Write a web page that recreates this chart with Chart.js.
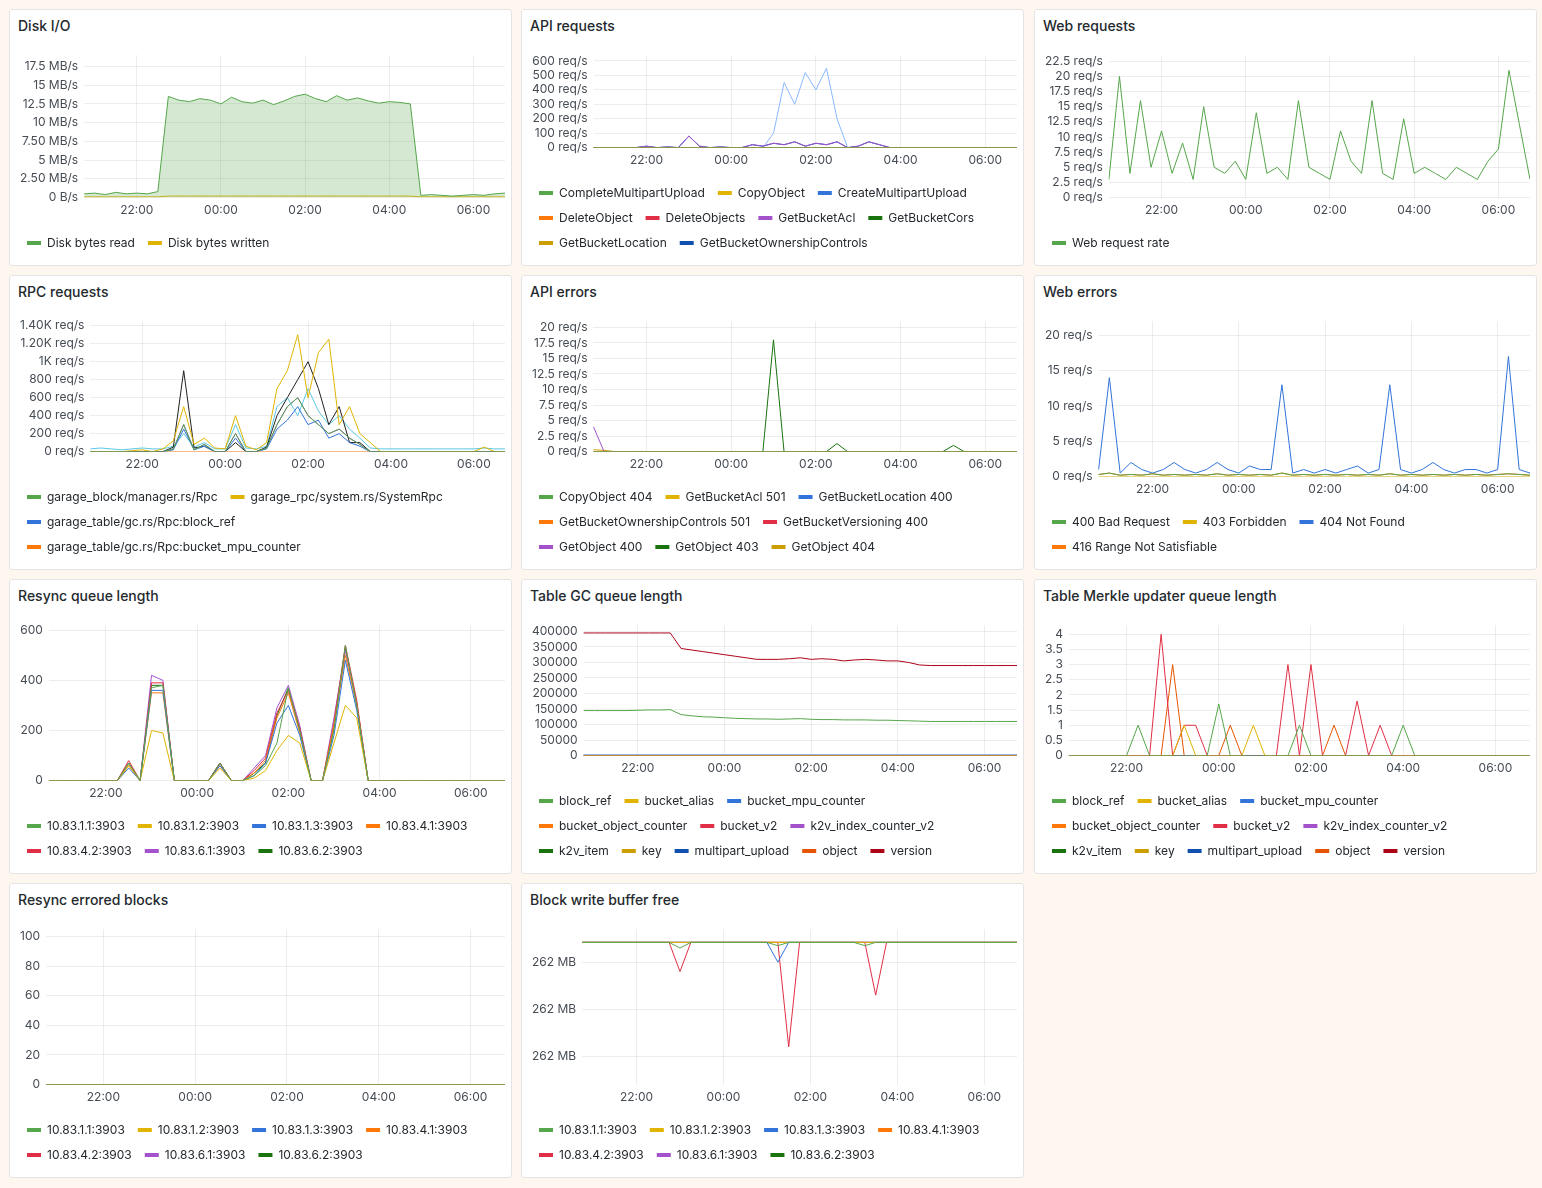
<!DOCTYPE html>
<html>
<head>
<meta charset="utf-8">
<script src="https://cdn.jsdelivr.net/npm/chart.js@4.4.1/dist/chart.umd.min.js"></script>
<style>
  body { margin: 0; background: #fef7ef; font-family: Inter, "Noto Sans", sans-serif; }
  .panel { position: absolute; background: #fff; border: 1px solid #e4e4e7; border-radius: 3px; box-sizing: border-box; }
  .title { position: absolute; left: 8px; top: 7px; font-size: 14px; font-weight: 500; color: #24292e; }
  .box { position: absolute; left: 4px; right: 6px; top: 32px; bottom: 6px; }
</style>
</head>
<body>
<div id="root"></div>
<script>
// ─── Data ───
const times = ["20:45","21:00","21:15","21:30","21:45","22:00","22:15","22:30","22:45","23:00","23:15","23:30","23:45",
  "00:00","00:15","00:30","00:45","01:00","01:15","01:30","01:45","02:00","02:15","02:30","02:45","03:00","03:15","03:30","03:45",
  "04:00","04:15","04:30","04:45","05:00","05:15","05:30","05:45","06:00","06:15","06:30","06:45"];
const Z = [0,0,0,0,0,0,0,0,0,0,0,0,0,0,0,0,0,0,0,0,0,0,0,0,0,0,0,0,0,0,0,0,0,0,0,0,0,0,0,0,0];

const diskRead    = [0.5,0.6,0.4,0.7,0.5,0.6,0.5,0.8,13.5,13,12.8,13.2,13,12.5,13.4,12.8,12.6,13,12.4,12.9,13.5,13.8,13.2,12.8,13.6,13,13.3,12.9,12.6,12.8,12.7,12.5,0.3,0.4,0.3,0.2,0.3,0.4,0.3,0.5,0.6];
const diskWritten = [0.1,0.1,0.1,0.1,0.1,0.1,0.1,0.1,0.2,0.2,0.2,0.2,0.2,0.2,0.2,0.2,0.2,0.2,0.2,0.2,0.2,0.2,0.2,0.2,0.2,0.2,0.2,0.2,0.2,0.2,0.2,0.2,0.1,0.1,0.1,0.1,0.1,0.1,0.1,0.1,0.1];

const apiPurple = [0,0,0,0,0,10,0,5,0,80,10,0,5,0,0,20,10,30,20,40,10,30,20,40,0,10,40,20,0,0,0,0,0,0,0,0,0,0,0,0,0];
const apiLight  = [0,0,0,0,0,0,0,0,0,0,0,0,0,0,0,0,0,100,450,300,520,400,550,200,0,0,0,0,0,0,0,0,0,0,0,0,0,0,0,0,0];

const webReq = [3,20,4,16,5,11,4,9,3,15,5,4,6,3,14,4,5,3,16,5,4,3,11,6,4,16,4,3,13,4,5,4,3,5,4,3,6,8,21,12,3];

const rpcYellow = [0,0,0,0,10,20,0,30,120,500,80,150,40,30,400,60,20,100,700,900,1300,600,1100,1250,300,500,200,100,0,0,0,0,0,0,0,0,0,0,50,0,0];
const rpcBlack  = [0,0,0,0,0,0,0,0,50,900,40,60,0,0,100,0,0,50,400,600,800,1000,700,300,500,100,100,0,0,0,0,0,0,0,0,0,0,0,0,0,0];
const rpcCyan   = [30,40,30,20,30,40,30,30,60,200,50,100,30,30,300,40,30,60,500,600,400,700,450,300,400,250,150,40,30,30,30,30,30,30,30,30,30,30,40,30,30];
const rpcPurple = [0,0,0,0,0,0,0,0,30,300,20,80,0,0,200,0,0,40,300,500,600,400,300,200,250,150,80,0,0,0,0,0,0,0,0,0,0,0,0,0,0];
const rpcBlue   = [0,0,0,0,0,0,0,0,20,250,20,60,0,0,150,0,0,30,250,350,500,300,350,150,200,100,60,0,0,0,0,0,0,0,0,0,0,0,0,0,0];

const errPurple = [4,0,0,0,0,0,0,0,0,0,0,0,0,0,0,0,0,0,0,0,0,0,0,0,0,0,0,0,0,0,0,0,0,0,0,0,0,0,0,0,0];
const errGreen  = [0,0,0,0,0,0,0,0,0,0,0,0,0,0,0,0,0,18,0,0,0,0,0,1.3,0,0,0,0,0,0,0,0,0,0,1,0,0,0,0,0,0];
const errYellow = [0.3,0.2,0,0,0,0,0,0,0,0,0,0,0,0,0,0,0,0,0,0,0,0,0,0,0,0,0,0,0,0,0,0,0,0,0,0,0,0,0,0,0];

const webErr404 = [1,14,0.5,2,1,0.5,1,2,1,0.5,1,2,1,0.5,1.5,1,1,13,0.5,1,0.5,1,0.5,1,1.5,0.5,1,13,1,0.5,1,2,1,0.5,1,1,0.5,1,17,1,0.5];
const webErr400 = [0.3,0.5,0.2,0.3,0.2,0.4,0.2,0.3,0.2,0.3,0.2,0.4,0.2,0.3,0.2,0.3,0.2,0.5,0.2,0.3,0.2,0.3,0.2,0.3,0.2,0.3,0.2,0.4,0.2,0.3,0.2,0.3,0.2,0.3,0.2,0.3,0.2,0.3,0.4,0.3,0.2];

const rsGreen  = [0,0,0,0,0,0,0,70,0,370,380,0,0,0,0,70,0,0,20,60,150,370,200,0,0,200,540,300,0,0,0,0,0,0,0,0,0,0,0,0,0];
const rsYellow = [0,0,0,0,0,0,0,60,0,200,190,0,0,0,0,50,0,0,10,40,120,180,150,0,0,150,300,250,0,0,0,0,0,0,0,0,0,0,0,0,0];
const rsBlue   = [0,0,0,0,0,0,0,50,0,360,360,0,0,0,0,60,0,0,20,70,230,300,180,0,0,180,480,280,0,0,0,0,0,0,0,0,0,0,0,0,0];
const rsOrange = [0,0,0,0,0,0,0,60,0,350,350,0,0,0,0,60,0,0,30,80,250,350,190,0,0,220,500,300,0,0,0,0,0,0,0,0,0,0,0,0,0];
const rsRed    = [0,0,0,0,0,0,0,80,0,390,390,0,0,0,0,70,0,0,40,90,270,360,210,0,0,230,540,320,0,0,0,0,0,0,0,0,0,0,0,0,0];
const rsPurple = [0,0,0,0,0,0,0,70,0,420,400,0,0,0,0,70,0,0,50,100,290,380,220,0,0,250,520,310,0,0,0,0,0,0,0,0,0,0,0,0,0];
const rsDGreen = [0,0,0,0,0,0,0,70,0,380,380,0,0,0,0,70,0,0,30,70,260,370,200,0,0,210,530,300,0,0,0,0,0,0,0,0,0,0,0,0,0];

const gcVersion = [395000,395000,395000,395000,395000,395000,395000,395000,395000,345000,340000,335000,330000,325000,320000,315000,310000,310000,310000,312000,315000,310000,312000,310000,305000,308000,310000,308000,305000,305000,300000,292000,290000,290000,290000,290000,290000,290000,290000,290000,290000];
const gcBlockRef = [145000,145000,145000,145000,145000,146000,147000,147000,148000,132000,128000,125000,124000,122000,120000,119000,118000,118000,117000,118000,119000,117000,116000,116000,115000,115000,115000,114000,114000,113000,112000,111000,110000,110000,110000,110000,110000,110000,110000,110000,110000];
const gcMpu = [2000,2000,2000,2000,2000,2000,2000,2000,2000,2000,2000,2000,2000,2000,2000,2000,2000,2000,2000,2000,2000,2000,2000,2000,2000,2000,2000,2000,2000,2000,2000,2000,2000,2000,2000,2000,2000,2000,2000,2000,2000];

const mkGreen  = [0,0,0,0,0,0,1,0,0,0,0,0,0,1.7,0,0,0,0,0,0,1,0,0,0,0,0,0,0,0,1,0,0,0,0,0,0,0,0,0,0,0];
const mkRed    = [0,0,0,0,0,0,0,0,4,0,1,1,0,0,0,0,0,0,0,3,0,3,0,0,0,1.8,0,1,0,0,0,0,0,0,0,0,0,0,0,0,0];
const mkOrange = [0,0,0,0,0,0,0,0,0,3,0,0,0,0,1,0,0,0,0,0,0,0,0,1,0,0,0,0,0,0,0,0,0,0,0,0,0,0,0,0,0];
const mkYellow = [0,0,0,0,0,0,0,0,0,0,1,0,0,0,0,0,1,0,0,0,0,0,0,0,0,0,0,0,0,0,0,0,0,0,0,0,0,0,0,0,0];

const bwBase = [3.42,3.42,3.42,3.42,3.42,3.42,3.42,3.42,3.42,3.42,3.42,3.42,3.42,3.42,3.42,3.42,3.42,3.42,3.42,3.42,3.42,3.42,3.42,3.42,3.42,3.42,3.42,3.42,3.42,3.42,3.42,3.42,3.42,3.42,3.42,3.42,3.42,3.42,3.42,3.42,3.42];
const bwRed    = [3.42,3.42,3.42,3.42,3.42,3.42,3.42,3.42,3.42,2.8,3.42,3.42,3.42,3.42,3.42,3.42,3.42,3.42,3.42,1.2,3.42,3.42,3.42,3.42,3.42,3.42,3.42,2.3,3.42,3.42,3.42,3.42,3.42,3.42,3.42,3.42,3.42,3.42,3.42,3.42,3.42];
const bwBlue   = [3.42,3.42,3.42,3.42,3.42,3.42,3.42,3.42,3.42,3.42,3.42,3.42,3.42,3.42,3.42,3.42,3.42,3.42,3.0,3.42,3.42,3.42,3.42,3.42,3.42,3.42,3.42,3.42,3.42,3.42,3.42,3.42,3.42,3.42,3.42,3.42,3.42,3.42,3.42,3.42,3.42];
const bwGreen  = [3.42,3.42,3.42,3.42,3.42,3.42,3.42,3.42,3.42,3.3,3.42,3.42,3.42,3.42,3.42,3.42,3.42,3.42,3.35,3.42,3.42,3.42,3.42,3.42,3.42,3.42,3.35,3.42,3.42,3.42,3.42,3.42,3.42,3.42,3.42,3.42,3.42,3.42,3.42,3.42,3.42];

const nodes = ["10.83.1.1:3903","10.83.1.2:3903","10.83.1.3:3903","10.83.4.1:3903","10.83.4.2:3903","10.83.6.1:3903","10.83.6.2:3903"];
const tables = ["block_ref","bucket_alias","bucket_mpu_counter","bucket_object_counter","bucket_v2","k2v_index_counter_v2","k2v_item","key","multipart_upload","object","version"];

// ─── Palette ───
const C = { green:"#56a64b", yellow:"#e0b400", blue:"#3274d9", orange:"#ff780a", red:"#e02f44", purple:"#a352cc",
  dgreen:"#19730e", dyellow:"#cc9d00", dblue:"#1250b0", dorange:"#e55400", dred:"#ad0317", lblue:"#8ab8ff", cyan:"#5ac8e6", black:"#222" };
const P = [C.green, C.yellow, C.blue, C.orange, C.red, C.purple, C.dgreen, C.dyellow, C.dblue, C.dorange, C.dred];

// ─── Helpers ───
function panel(x, y, w, h, title) {
  const d = document.createElement("div");
  d.className = "panel";
  d.style.cssText = `left:${x}px;top:${y}px;width:${w}px;height:${h}px`;
  d.innerHTML = `<div class="title">${title}</div><div class="box"><canvas></canvas></div>`;
  document.getElementById("root").appendChild(d);
  return d.querySelector("canvas");
}
function ds(label, data, color, extra) {
  return Object.assign({ label, data, borderColor: color, backgroundColor: color, borderWidth: 1, pointRadius: 0, fill: false, tension: 0 }, extra || {});
}
function chart(canvas, datasets, y, legendMax) {
  const min = y.min != null ? y.min : 0;
  new Chart(canvas, {
    type: "line",
    data: { labels: times, datasets },
    options: {
      animation: false, responsive: true, maintainAspectRatio: false,
      plugins: {
        tooltip: { enabled: false },
        legend: {
          position: "bottom", align: "start",
          labels: { boxWidth: 14, boxHeight: 4, padding: 13, color: "#24292e", font: { size: 12, family: "Inter" },
            filter: item => legendMax == null || item.datasetIndex < legendMax,
            generateLabels: ch => Chart.defaults.plugins.legend.labels.generateLabels(ch)
              .map(it => Object.assign(it, { fillStyle: it.strokeStyle, lineWidth: 0 })) }
        }
      },
      scales: {
        x: {
          grid: { color: "rgba(0,0,0,0.07)", drawTicks: false },
          border: { display: false },
          ticks: { autoSkip: false, maxRotation: 0, padding: 6, color: "#464c54", font: { size: 12, family: "Inter" },
            callback: (v, i) => { const t = times[i]; return (t.endsWith(":00") && parseInt(t) % 2 === 0) ? t : null; } }
        },
        y: {
          min, max: y.max,
          grid: { color: "rgba(0,0,0,0.07)", drawTicks: false },
          border: { display: false },
          afterBuildTicks: ax => {
            const ticks = [];
            for (let k = Math.ceil(min / y.step - 1e-9); k * y.step <= y.max + 1e-9; k++) ticks.push({ value: k * y.step });
            ax.ticks = ticks;
          },
          ticks: { autoSkip: false, padding: 6, color: "#464c54", font: { size: 12, family: "Inter" }, callback: y.fmt }
        }
      }
    }
  });
}
const reqFmt = v => v + " req/s";

// ─── Row 1 ───
chart(panel(9, 9, 503, 257, "Disk I/O"), [
  ds("Disk bytes read", diskRead, C.green, { fill: "origin", backgroundColor: "rgba(86,166,75,0.25)" }),
  ds("Disk bytes written", diskWritten, C.yellow)
], { max: 19, step: 2.5, fmt: v => v === 0 ? "0 B/s" : ((v < 10 && v % 1 ? v.toFixed(2) : v) + " MB/s") });

chart(panel(521, 9, 503, 257, "API requests"), [
  ds("CompleteMultipartUpload", Z, C.green), ds("CopyObject", Z, C.yellow), ds("CreateMultipartUpload", Z, C.blue),
  ds("DeleteObject", Z, C.orange), ds("DeleteObjects", Z, C.red), ds("GetBucketAcl", apiPurple, C.purple),
  ds("GetBucketCors", Z, C.dgreen), ds("GetBucketLocation", Z, C.dyellow), ds("GetBucketOwnershipControls", apiPurple, C.dblue),
  ds("GetObject", apiLight, C.lblue)
], { max: 640, step: 100, fmt: reqFmt }, 9);

chart(panel(1034, 9, 503, 257, "Web requests"), [
  ds("Web request rate", webReq, C.green)
], { max: 23.5, step: 2.5, fmt: reqFmt });

// ─── Row 2 ───
chart(panel(9, 275, 503, 295, "RPC requests"), [
  ds("garage_block/manager.rs/Rpc", rpcPurple, C.green), ds("garage_rpc/system.rs/SystemRpc", rpcYellow, C.yellow),
  ds("garage_table/gc.rs/Rpc:block_ref", rpcBlue, C.blue), ds("garage_table/gc.rs/Rpc:bucket_mpu_counter", Z, C.orange),
  ds("black", rpcBlack, C.black), ds("cyan", rpcCyan, C.cyan), ds("purple", rpcPurple, C.purple)
], { max: 1450, step: 200, fmt: v => v >= 1000 ? (v === 1000 ? "1K" : (v / 1000).toFixed(2) + "K") + " req/s" : v + " req/s" }, 4);

chart(panel(521, 275, 503, 295, "API errors"), [
  ds("CopyObject 404", Z, C.green), ds("GetBucketAcl 501", Z, C.yellow), ds("GetBucketLocation 400", Z, C.blue),
  ds("GetBucketOwnershipControls 501", Z, C.orange), ds("GetBucketVersioning 400", Z, C.red),
  ds("GetObject 400", errPurple, C.purple), ds("GetObject 403", errGreen, C.dgreen), ds("GetObject 404", errYellow, C.dyellow)
], { max: 21, step: 2.5, fmt: reqFmt });

chart(panel(1034, 275, 503, 295, "Web errors"), [
  ds("400 Bad Request", webErr400, C.green), ds("403 Forbidden", Z, C.yellow),
  ds("404 Not Found", webErr404, C.blue), ds("416 Range Not Satisfiable", webErr400, C.orange)
], { max: 22, step: 5, fmt: reqFmt });

// ─── Row 3 ───
const rsData = [rsGreen, rsYellow, rsBlue, rsOrange, rsRed, rsPurple, rsDGreen];
chart(panel(9, 579, 503, 295, "Resync queue length"), nodes.map((n, i) => ds(n, rsData[i], P[i])),
  { max: 620, step: 200, fmt: v => v });

const gcData = { block_ref: gcBlockRef, bucket_mpu_counter: gcMpu, version: gcVersion };
chart(panel(521, 579, 503, 295, "Table GC queue length"), tables.map((t, i) => ds(t, gcData[t] || Z, P[i])),
  { max: 420000, step: 50000, fmt: v => v });

const mkData = { block_ref: mkGreen, bucket_alias: mkYellow, bucket_v2: mkRed, object: mkOrange };
chart(panel(1034, 579, 503, 295, "Table Merkle updater queue length"), tables.map((t, i) => ds(t, mkData[t] || Z, P[i])),
  { max: 4.3, step: 0.5, fmt: v => v });

// ─── Row 4 ───
chart(panel(9, 883, 503, 295, "Resync errored blocks"), nodes.map((n, i) => ds(n, Z, P[i])),
  { max: 105, step: 20, fmt: v => v });

const bwData = [bwGreen, bwBase, bwBlue, bwBase, bwRed, bwBase, bwBase];
chart(panel(521, 883, 503, 295, "Block write buffer free"), nodes.map((n, i) => ds(n, bwData[i], P[i])),
  { min: 0.4, max: 3.7, step: 1, fmt: v => "262 MB" });
</script>
</body>
</html>
